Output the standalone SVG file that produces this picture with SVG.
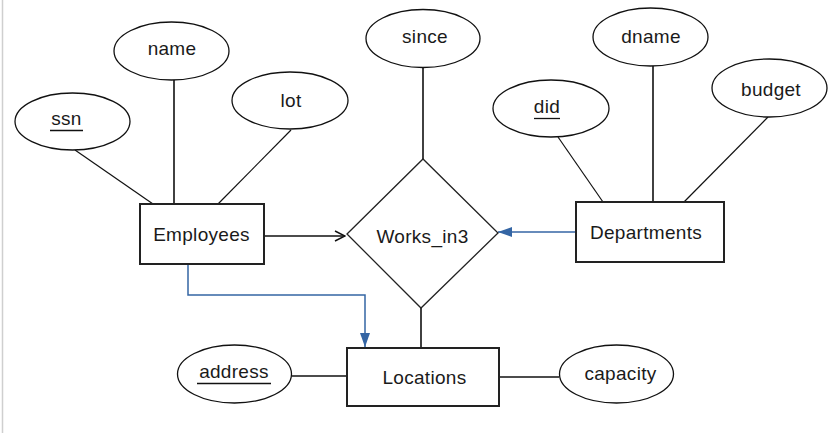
<svg xmlns="http://www.w3.org/2000/svg" width="837" height="435" viewBox="0 0 837 435">
<style>
text{font-family:"Liberation Sans",Arial,sans-serif;font-size:19px;letter-spacing:0.3px;fill:#1a1a1a;text-anchor:middle}
.attr{fill:#fff;stroke:#111;stroke-width:1.3}
.ent{fill:#fff;stroke:#222;stroke-width:2}
.rel{fill:#fff;stroke:#222;stroke-width:1.3}
.ln{stroke:#111;stroke-width:1.6;fill:none}
.thin{stroke:#111;stroke-width:1.2;fill:none}
.blue{stroke:#3465A4;stroke-width:1.5;fill:none}
.ul{stroke:#111;stroke-width:1.3}
</style>
<defs>
<marker id="blueHead" markerWidth="14" markerHeight="10" refX="14" refY="5" orient="auto" markerUnits="userSpaceOnUse">
<path d="M0,0 L14,5 L0,10 Z" fill="#3465A4"/>
</marker>
<marker id="openHead" markerWidth="12" markerHeight="12" refX="11" refY="6" orient="auto" markerUnits="userSpaceOnUse">
<path d="M1,1 L11,6 L1,11" fill="none" stroke="#111" stroke-width="1.5"/>
</marker>
</defs>
<rect x="0" y="0" width="837" height="435" fill="#fff"/>
<line x1="2.5" y1="0" x2="2.5" y2="433" stroke="#cfcfcf" stroke-width="1.5"/>

<g id="connectors">
<line class="ln" x1="174" y1="80" x2="174" y2="204"/>
<line class="thin" x1="75" y1="150" x2="153" y2="204"/>
<line class="thin" x1="291" y1="130" x2="218" y2="204"/>
<line class="ln" x1="423" y1="67" x2="423" y2="159"/>
<line class="thin" x1="558" y1="137" x2="603" y2="202"/>
<line class="ln" x1="653" y1="66" x2="653" y2="202"/>
<line class="thin" x1="768" y1="117" x2="684" y2="202"/>
<line class="ln" x1="264" y1="236" x2="345" y2="236" marker-end="url(#openHead)"/>
<line class="blue" x1="576" y1="232" x2="498" y2="232" marker-end="url(#blueHead)"/>
<polyline class="blue" points="188,254 188,295 365,295 365,347" marker-end="url(#blueHead)"/>
<line class="ln" x1="421" y1="308" x2="421" y2="348"/>
<line class="ln" x1="292" y1="376" x2="347" y2="376"/>
<line class="ln" x1="499" y1="377" x2="559" y2="377"/>
</g>

<g id="attr-name"><ellipse class="attr" cx="171.5" cy="51" rx="57.5" ry="29"/><text x="172" y="55">name</text></g>
<g id="attr-ssn"><ellipse class="attr" cx="72.5" cy="121.5" rx="57.5" ry="28.5"/><text x="66.5" y="125">ssn</text><line class="ul" x1="50" y1="130.5" x2="83" y2="130.5"/></g>
<g id="attr-lot"><ellipse class="attr" cx="290" cy="100.5" rx="58" ry="28.5"/><text x="291" y="107">lot</text></g>
<g id="attr-since"><ellipse class="attr" cx="423" cy="38.5" rx="57" ry="29"/><text x="425" y="43">since</text></g>
<g id="attr-dname"><ellipse class="attr" cx="650.5" cy="37" rx="57.5" ry="29"/><text x="651" y="43">dname</text></g>
<g id="attr-budget"><ellipse class="attr" cx="769.5" cy="88" rx="57.5" ry="29"/><text x="771" y="96">budget</text></g>
<g id="attr-did"><ellipse class="attr" cx="551" cy="108.5" rx="58" ry="28.5"/><text x="547" y="113">did</text><line class="ul" x1="534" y1="118.5" x2="560" y2="118.5"/></g>
<g id="attr-address"><ellipse class="attr" cx="234.5" cy="374" rx="57" ry="29"/><text x="234" y="378">address</text><line class="ul" x1="197" y1="383.5" x2="271" y2="383.5"/></g>
<g id="attr-capacity"><ellipse class="attr" cx="616.5" cy="374" rx="57" ry="29"/><text x="620.5" y="380">capacity</text></g>

<g id="Employees"><rect class="ent" x="140" y="204" width="124" height="60"/><text x="201.5" y="241">Employees</text></g>
<g id="Departments"><rect class="ent" x="576" y="202" width="148" height="60"/><text x="646" y="239">Departments</text></g>
<g id="Locations"><rect class="ent" x="347" y="348" width="152" height="58"/><text x="424.5" y="384">Locations</text></g>
<g id="Works_in3"><polygon class="rel" points="347,234 423,159 498,233 421,308"/><text x="422.5" y="243">Works_in3</text></g>
</svg>
